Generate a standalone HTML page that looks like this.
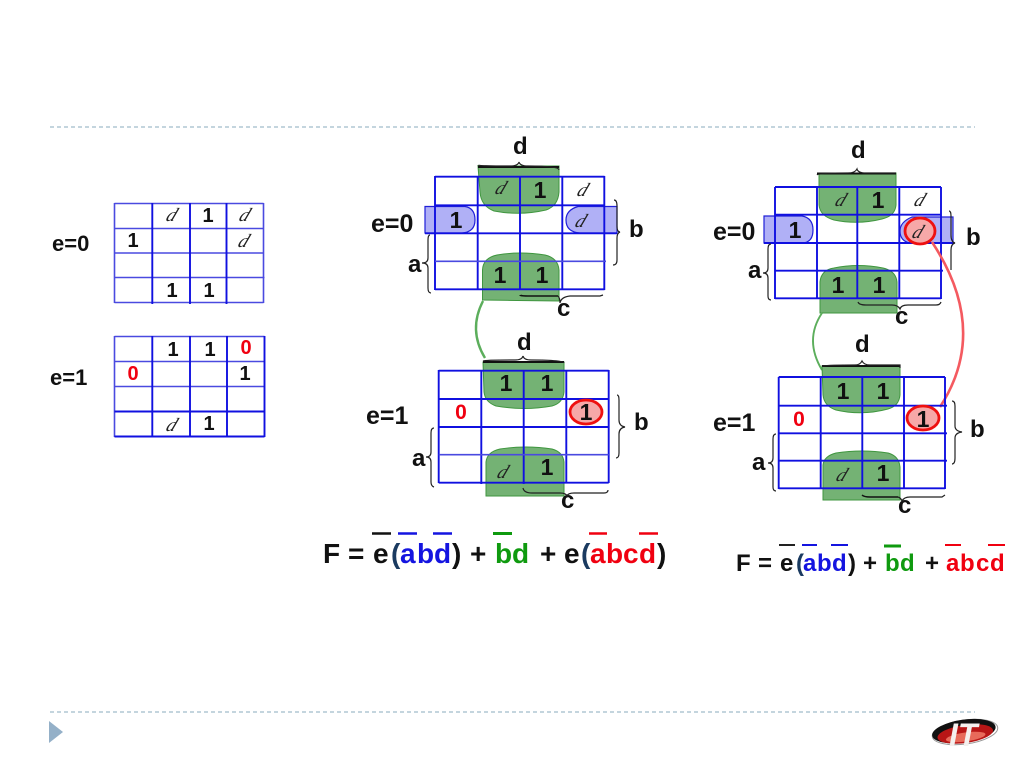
<!DOCTYPE html>
<html><head><meta charset="utf-8"><style>
html,body{margin:0;padding:0;background:#fff;width:1024px;height:767px;overflow:hidden}
svg{display:block;filter:blur(.35px)}
text{font-family:"Liberation Sans",sans-serif}
.n{font-weight:bold;font-size:23px;text-anchor:middle;fill:#111}
.s{font-size:20px;font-weight:bold;text-anchor:middle;fill:#111}
.r{font-weight:bold;font-size:20px;text-anchor:middle;fill:#f00010}
.x{font-family:"Liberation Serif",serif;font-style:italic;font-size:19px;text-anchor:middle;fill:#222;transform-box:fill-box;transform-origin:center;transform:skewX(-22deg)}
.l{font-size:24px;font-weight:bold;fill:#111}
.e{font-size:25px;font-weight:bold;fill:#111}
.g{fill:none;stroke:#1010e0;stroke-width:1.9}
.lg{fill:none;stroke:#4a4ae0;stroke-width:1.6}
.b{fill:#74b274;stroke:#3f963f;stroke-width:1}
.o{fill:#b0b0f6;stroke:#2020d8;stroke-width:1.2}
.p{fill:#f6a8a8;stroke:#ee1010;stroke-width:2.8}
.br{fill:none;stroke:#222;stroke-width:1.2}
.bt{stroke:#111;stroke-width:2;fill:none}
.f text{font-size:28px;font-weight:bold}
.h text{font-size:24px;font-weight:bold}
</style></head><body>
<svg width="1024" height="767" viewBox="0 0 1024 767" xmlns="http://www.w3.org/2000/svg">
<line x1="50" y1="127" x2="975" y2="127" stroke="#a0bccb" stroke-width="1.3" stroke-dasharray="4 3"/>
<line x1="50" y1="712" x2="975" y2="712" stroke="#a0bccb" stroke-width="1.3" stroke-dasharray="4 3"/>
<polygon points="49,721 49,743 63,732" fill="#94b0c8"/>

<!-- left grids -->
<path class="lg" d="M114.500 203.500H263.500M114.500 228.500H263.500M114.500 253H263.500M114.500 277.500H264.500M114.500 302.500H263.500M114.500 203V303M263.500 203V303"/>
<path class="g" d="M152.300 203V304M190 203V304M226.500 203V304"/>
<path class="lg" d="M114.500 336.500H264.500M114.500 361.500H264.500M114.500 386.500H264.500M114.500 336V437"/>
<path class="g" d="M114.500 411.500H264.500M114.500 436.500H264.500M264.500 336V437M152.300 336V437M190 336V437M227 336V437"/>
<text class="l" x="52" y="251" style="font-size:22px">e=0</text>
<text class="l" x="50" y="385" style="font-size:22px">e=1</text>
<text class="x" x="172" y="221">d</text><text class="s" x="208" y="222">1</text><text class="x" x="245" y="221">d</text>
<text class="s" x="133" y="247">1</text><text class="x" x="244" y="247">d</text>
<text class="s" x="172" y="297">1</text><text class="s" x="209" y="297">1</text>
<text class="s" x="173" y="356">1</text><text class="s" x="210" y="356">1</text><text class="r" x="246" y="354">0</text>
<text class="r" x="133" y="380">0</text><text class="s" x="245" y="380">1</text>
<text class="x" x="172" y="431">d</text><text class="s" x="209" y="430">1</text>

<!-- middle top -->
<path class="b" d="M478 166H559V192Q558 206 546 210Q520 216 494 211Q481 206 480 192Z"/>
<path class="b" d="M482.500 300V270Q483 258 497 255Q520 251 545 255Q558 258 559 270V301Z"/>
<path class="o" d="M425 206.500H465Q475 208 475 220Q475 232 462 233H425Z"/>
<path class="o" d="M617 206.500H578Q566 210 566 220Q566 232 580 233H617Z"/>
<path class="g" d="M435 176.700H604.500M435 205.300H604.500M425 233.300H617M435 289.300H604.500M435 176V290M477.700 176V290M520 176V290M562.300 176V290M604.300 176V290"/>
<path class="lg" d="M435 261.300H606"/>
<path class="bt" d="M478 167H559"/>
<path class="br" d="M478 165Q478 166 510 166Q518 166 519 162Q520 166 528 166Q559 166 559 170"/>
<text class="e" x="371" y="232">e=0</text>
<text class="l" x="513" y="154">d</text>
<text class="l" x="408" y="272">a</text>
<text class="l" x="629" y="237">b</text>
<text class="l" x="557" y="316">c</text>
<path class="br" d="M614 200Q617 200 617 206V226Q617 232 620 232Q617 233 617 238V260Q617 265 613 265"/>
<path class="br" d="M430 235Q428 235 428 240V258Q428 263 422 263Q428 263 428 268V288Q428 293 431 293"/>
<path class="bt" style="stroke-width:1.6" d="M520 295Q520 296 530 296H558"/>
<path class="br" d="M558 296Q560 298 560 303Q561 297 570 296H600L603 295"/>
<text class="x" x="501" y="194">d</text><text class="n" x="540" y="198">1</text><text class="x" x="583" y="196">d</text>
<text class="n" x="456" y="228">1</text><text class="x" x="581" y="227">d</text>
<text class="n" x="500" y="283">1</text><text class="n" x="542" y="283">1</text>
<path d="M483 301Q468 330 485 358" fill="none" stroke="#5cae5c" stroke-width="2.4"/>

<!-- middle bottom -->
<path class="b" d="M483 362H564V392Q563 403 552 406Q524 411 496 406Q485 402 484 392Z"/>
<path class="b" d="M486 496V462Q487 452 500 449Q526 445 552 449Q563 452 564 462V496Z"/>
<path class="g" d="M438.700 370.700H608.700M438.700 399H608.700M438.700 427H608.700M438.700 482.700H608.700M438.700 370V483M481.300 370V484M523.700 370V484M566.300 370V483M608.700 370V483"/>
<path class="lg" d="M438.700 454.700H608.700"/>
<ellipse class="p" cx="586" cy="412" rx="16" ry="12"/>
<path class="bt" d="M483 362H564"/>
<path class="br" d="M483 361Q485 360 515 360Q522 360 523 356Q524 360 531 360Q564 360 564 363"/>
<text class="e" x="366" y="424">e=1</text>
<text class="l" x="517" y="350">d</text>
<text class="l" x="412" y="466">a</text>
<text class="l" x="634" y="430">b</text>
<text class="l" x="561" y="508">c</text>
<path class="br" d="M617 395Q619 395 619 400V420Q619 426 625 427Q619 428 619 434V453Q619 458 616 458"/>
<path class="br" d="M434 428Q431 428 431 433V452Q431 457 426 457Q431 457 431 462V482Q431 486 434 487"/>
<path class="br" d="M523 488Q524 493 532 493H560Q566 493 567 496Q568 493 574 493H604Q608 493 608 490"/>
<text class="n" x="506" y="391">1</text><text class="n" x="547" y="391">1</text>
<text class="r" x="461" y="419" style="font-size:21px">0</text>
<text class="n" x="586" y="420">1</text>
<text class="x" x="503" y="478">d</text><text class="n" x="547" y="475">1</text>

<!-- right top -->
<path class="b" d="M819 173H896V205Q895 216 882 219Q858 225 834 220Q820 216 819 205Z"/>
<path class="b" d="M820 313V282Q821 270 834 268Q858 263 883 268Q896 271 897 282V313Z"/>
<path class="o" d="M764 216H802Q813 218 813 230Q813 242 803 243H764Z"/>
<path class="o" d="M953 217H912Q900 222 900 231Q900 241 910 243H953Z"/>
<path class="g" d="M775 187H941M775 214.700H941M764 243H953M775 270.700H943M775 298.300H941M775 187V299M817 187V299M857.300 187V299M899.300 187V299M941 187V299"/>
<path class="bt" d="M817 173.500H896"/>
<path class="br" d="M817 175Q818 173 848 173Q855 173 857 169Q858 173 866 173H896"/>
<ellipse class="p" cx="920" cy="231" rx="15" ry="13"/>
<text class="e" x="713" y="240">e=0</text>
<text class="l" x="851" y="158">d</text>
<text class="l" x="748" y="278">a</text>
<text class="l" x="966" y="245">b</text>
<text class="l" x="895" y="324">c</text>
<path class="br" d="M949 211Q951 211 951 216V235Q951 242 955 243Q951 244 951 250V270"/>
<path class="br" d="M771 244Q768 244 768 249V268Q768 273 763 273Q768 273 768 278V296Q768 300 771 300"/>
<path class="br" d="M858 302Q859 305 866 305H892Q898 305 900 309Q901 305 908 305H936Q940 305 941 302"/>
<text class="x" x="841" y="206">d</text><text class="n" x="878" y="208">1</text><text class="x" x="920" y="206">d</text>
<text class="n" x="795" y="238">1</text><text class="x" x="918" y="238">d</text>
<text class="n" x="838" y="293">1</text><text class="n" x="879" y="293">1</text>
<path d="M822 313Q804 340 822 370" fill="none" stroke="#5cae5c" stroke-width="1.9"/>
<path d="M932 242Q990 330 940 407" fill="none" stroke="#f45a60" stroke-width="2.6"/>

<!-- right bottom -->
<path class="b" d="M822 366H900V395Q899 406 888 409Q862 416 836 410Q824 406 823 395Z"/>
<path class="b" d="M823 500V465Q824 456 836 453Q862 449 888 453Q899 456 900 467V500Z"/>
<path class="g" d="M778.700 377H945M778.700 405.700H947M778.700 433.300H947M778.700 460.700H947M778.700 488.300H945M778.700 377V489M820.700 377V489M862.300 377V489M904 377V489M945 377V489"/>
<ellipse class="p" cx="923" cy="418" rx="16" ry="12"/>
<path class="bt" d="M822 366H900"/>
<path class="br" d="M822 366Q830 365 855 365Q860 365 862 361Q864 365 870 365H900V368"/>
<text class="e" x="713" y="431">e=1</text>
<text class="l" x="855" y="352">d</text>
<text class="l" x="752" y="470">a</text>
<text class="l" x="970" y="437">b</text>
<text class="l" x="898" y="513">c</text>
<path class="br" d="M952 401Q955 401 955 406V426Q955 431 962 432Q955 433 955 438V458Q955 464 952 464"/>
<path class="br" d="M776 434Q773 434 773 439V458Q773 463 768 463Q773 463 773 468V487Q773 491 776 491"/>
<path class="bt" style="stroke-width:1.4" d="M862 495Q864 497 870 497H898"/>
<path class="br" d="M898 497Q901 498 902 501Q904 497 910 497H942L945 495"/>
<text class="n" x="843" y="399">1</text><text class="n" x="883" y="399">1</text>
<text class="r" x="799" y="426" style="font-size:21px">0</text>
<text class="n" x="923" y="427">1</text>
<text class="x" x="842" y="481">d</text><text class="n" x="883" y="481">1</text>

<!-- formula 1 -->
<g class="f">
<text x="323" y="563" fill="#111">F</text>
<text x="348" y="563" fill="#111">=</text>
<text x="373" y="563" fill="#111">e</text>
<text x="391" y="563" fill="#1a3a60">(</text>
<text x="400 417 434" y="563" fill="#1414e0">abd</text>
<text x="452" y="563" fill="#111">)</text>
<text x="470" y="563" fill="#111">+</text>
<text x="495 512" y="563" fill="#0f9a0f">bd</text>
<text x="540" y="563" fill="#111">+</text>
<text x="564" y="563" fill="#111">e</text>
<text x="581" y="563" fill="#1a3a60">(</text>
<text x="590 606 623 639" y="563" fill="#f00010">abcd</text>
<text x="657" y="563" fill="#111">)</text>
</g>
<g stroke-width="2.4" fill="none">
<path stroke="#111" d="M372 533.500H391"/>
<path stroke="#1414e0" d="M398 533.500H417M433 533.500H452"/>
<path stroke="#0f9a0f" stroke-width="3" d="M493 533.500H512"/>
<path stroke="#f00010" d="M589 533.500H607M639 533.500H658"/>
</g>

<!-- formula 2 -->
<g class="h">
<text x="736" y="571" fill="#111">F</text>
<text x="758" y="571" fill="#111">=</text>
<text x="780" y="571" fill="#111">e</text>
<text x="796" y="571" fill="#1a3a60">(</text>
<text x="803 817 832" y="571" fill="#1414e0">abd</text>
<text x="848" y="571" fill="#111">)</text>
<text x="863" y="571" fill="#111">+</text>
<text x="885 900" y="571" fill="#0f9a0f">bd</text>
<text x="925" y="571" fill="#111">+</text>
<text x="946 960 976 990" y="571" fill="#f00010">abcd</text>
</g>
<g stroke-width="2" fill="none">
<path stroke="#222" d="M779 545H795"/>
<path stroke="#1414e0" d="M802 545H817M831 545H848"/>
<path stroke="#0f9a0f" stroke-width="3" d="M884 546H901"/>
<path stroke="#f00010" d="M945 545H961M988 545H1005"/>
</g>

<!-- logo -->
<g transform="rotate(-8 965 732)">
<ellipse cx="965" cy="732" rx="33" ry="12" fill="none" stroke="#999" stroke-width="1"/>
<ellipse cx="964" cy="731" rx="32" ry="11.500" fill="#111"/>
<ellipse cx="965" cy="734" rx="28" ry="9" fill="#b81616"/>
<ellipse cx="965" cy="737" rx="20" ry="4.500" fill="#e86a5a"/>
</g>
<text x="949" y="746" style="font-size:32px;font-weight:bold;font-style:italic;fill:#f4f0ee">IT</text>
</svg>
</body></html>
